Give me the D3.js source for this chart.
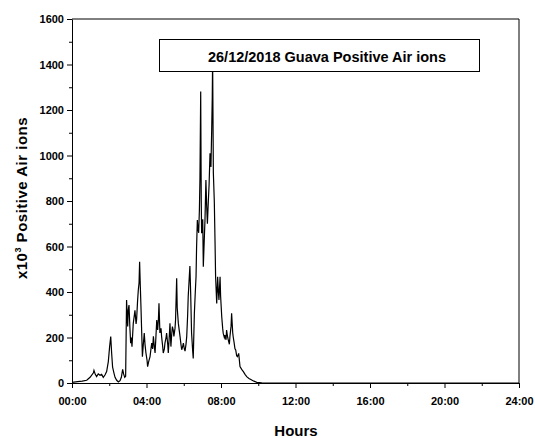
<!DOCTYPE html>
<html>
<head>
<meta charset="utf-8">
<script src="https://cdn.jsdelivr.net/npm/d3@7"></script>
<style>
  body { margin: 0; background: #fff; }
  svg text { font-family: "Liberation Sans", Arial, sans-serif; font-weight: bold; fill: #000; }
</style>
</head>
<body>
<script>
// data: time in hours, ions in x10^3
const hours = [
  0.00, 0.30, 0.55, 0.79, 0.97, 1.15, 1.18, 1.25, 1.32, 1.41, 1.50, 1.59, 1.68, 1.77, 1.86, 1.95,
  2.02, 2.08, 2.13, 2.18, 2.25, 2.31, 2.40, 2.49, 2.58, 2.65, 2.72, 2.77, 2.83, 2.88, 2.93, 2.99,
  3.02, 3.06, 3.11, 3.15, 3.19, 3.22, 3.29, 3.35, 3.38, 3.44, 3.47, 3.52, 3.56, 3.60, 3.63, 3.67,
  3.70, 3.74, 3.78, 3.83, 3.88, 3.92, 3.97, 4.03, 4.06, 4.12, 4.19, 4.24, 4.28, 4.33, 4.37, 4.42,
  4.46, 4.51, 4.55, 4.60, 4.64, 4.67, 4.72, 4.78, 4.81, 4.87, 4.90, 4.96, 4.99, 5.05, 5.08, 5.14,
  5.17, 5.22, 5.26, 5.31, 5.35, 5.39, 5.44, 5.47, 5.53, 5.56, 5.62, 5.65, 5.71, 5.76, 5.80, 5.85,
  5.89, 5.94, 5.98, 6.03, 6.07, 6.12, 6.16, 6.21, 6.24, 6.30, 6.33, 6.37, 6.42, 6.48, 6.51, 6.57,
  6.62, 6.66, 6.69, 6.73, 6.76, 6.80, 6.84, 6.87, 6.91, 6.94, 6.96, 7.02, 7.05, 7.11, 7.14, 7.19,
  7.23, 7.27, 7.32, 7.36, 7.41, 7.46, 7.50, 7.53, 7.55, 7.59, 7.64, 7.68, 7.71, 7.77, 7.82, 7.86,
  7.89, 7.95, 7.98, 8.04, 8.09, 8.12, 8.18, 8.21, 8.27, 8.30, 8.36, 8.39, 8.45, 8.48, 8.54, 8.57,
  8.63, 8.66, 8.70, 8.75, 8.79, 8.84, 8.88, 8.95, 9.02, 9.11, 9.20, 9.29, 9.38, 9.50, 9.65, 9.77,
  9.92, 10.19, 10.50, 12.00, 16.00, 20.00, 24.00
];
const ions = [
  3, 6, 8, 12, 25, 45, 55, 38, 28, 40, 34, 38, 25, 35, 50, 94,
  160, 204, 130, 70, 45, 25, 12, 5, 10, 25, 60, 40, 25, 30, 365, 248,
  320, 343, 240, 175, 200, 160, 262, 300, 320, 260, 280, 360, 409, 440, 533, 420,
  343, 230, 116, 170, 220, 170, 132, 100, 72, 95, 116, 150, 175, 150, 205, 160,
  132, 210, 277, 233, 280, 350, 220, 240, 205, 160, 132, 150, 175, 200, 220, 170,
  132, 200, 262, 160, 210, 248, 230, 205, 240, 277, 460, 330, 262, 230, 205, 170,
  146, 160, 175, 150, 140, 170, 205, 300, 380, 470, 514, 400, 220, 140, 108, 306,
  400, 468, 600, 716, 680, 660, 760, 900, 1281, 800, 658, 720, 511, 650, 716, 892,
  780, 700, 800, 870, 1010, 950, 1112, 1250, 1420, 923, 800, 620, 467, 350, 467, 400,
  365, 467, 380, 291, 240, 218, 200, 210, 190, 233, 200, 190, 170, 205, 250, 306,
  220, 200, 180, 150, 145, 120, 116, 130, 72, 60, 50, 38, 28, 20, 13, 8,
  3, 1, 0, 0, 0, 0, 0
];
const xTicks = [0, 4, 8, 12, 16, 20, 24];
const yTicks = [0, 200, 400, 600, 800, 1000, 1200, 1400, 1600];
const chartTitle = '26/12/2018 Guava Positive Air ions';

const width = 535, height = 438;
const mLeft = 72, mRight = 519, mTop = 19, mBottom = 383;

const svg = d3.select('body').append('svg')
  .attr('width', width)
  .attr('height', height);

const x = d3.scaleLinear().domain([0, 24]).range([mLeft, mRight]);
const y = d3.scaleLinear().domain([0, 1600]).range([mBottom, mTop]);

const fmtHour = h => String(h).padStart(2, '0') + ':00';

// minor ticks
svg.append('g')
  .attr('transform', `translate(0,${mBottom})`)
  .call(d3.axisBottom(x).tickValues(d3.range(2, 24, 4)).tickSize(3).tickFormat(''))
  .call(g => g.select('.domain').remove());
svg.append('g')
  .attr('transform', `translate(${mLeft},0)`)
  .call(d3.axisLeft(y).tickValues(d3.range(100, 1600, 200)).tickSize(3).tickFormat(''))
  .call(g => g.select('.domain').remove());

// main axes
const xAxis = svg.append('g')
  .attr('transform', `translate(0,${mBottom})`)
  .call(d3.axisBottom(x).tickValues(xTicks).tickSize(5).tickSizeOuter(0).tickPadding(9).tickFormat(fmtHour));

const yAxis = svg.append('g')
  .attr('transform', `translate(${mLeft},0)`)
  .call(d3.axisLeft(y).tickValues(yTicks).tickSize(5).tickSizeOuter(0).tickPadding(3).tickFormat(d3.format('d')));

svg.selectAll('.tick text')
  .attr('font-family', null)
  .style('font-family', '"Liberation Sans", Arial, sans-serif')
  .style('font-weight', 'bold')
  .style('font-size', '11px')
  .attr('fill', '#000');

svg.selectAll('.domain').attr('stroke', '#000');
svg.selectAll('.tick line').attr('stroke', '#000');

// top and right frame
svg.append('path')
  .attr('d', `M${mLeft},${mTop}H${mRight}V${mBottom}`)
  .attr('fill', 'none')
  .attr('stroke', '#000');

const line = d3.line()
  .x((d, i) => x(hours[i]))
  .y(d => y(d));

svg.append('path')
  .datum(ions)
  .attr('d', line)
  .attr('fill', 'none')
  .attr('stroke', '#000')
  .attr('stroke-width', 1.2);

// title box
svg.append('rect')
  .attr('x', 159.5).attr('y', 39.5)
  .attr('width', 320).attr('height', 32)
  .attr('fill', '#fff')
  .attr('stroke', '#000');
svg.append('text')
  .attr('x', 327).attr('y', 62)
  .attr('text-anchor', 'middle')
  .style('font-size', '14.5px')
  .text(chartTitle);

svg.append('text')
  .attr('x', 296).attr('y', 436)
  .attr('text-anchor', 'middle')
  .style('font-size', '15px')
  .text('Hours');

const yt = svg.append('text')
  .attr('transform', 'translate(27,198) rotate(-90)')
  .attr('text-anchor', 'middle')
  .style('font-size', '15px')
  .style('letter-spacing', '0.5px');
yt.append('tspan').text('x10');
yt.append('tspan').attr('dy', -6).style('font-size', '9px').text('3');
yt.append('tspan').attr('dy', 6).text(' Positive Air ions');
</script>
</body>
</html>
